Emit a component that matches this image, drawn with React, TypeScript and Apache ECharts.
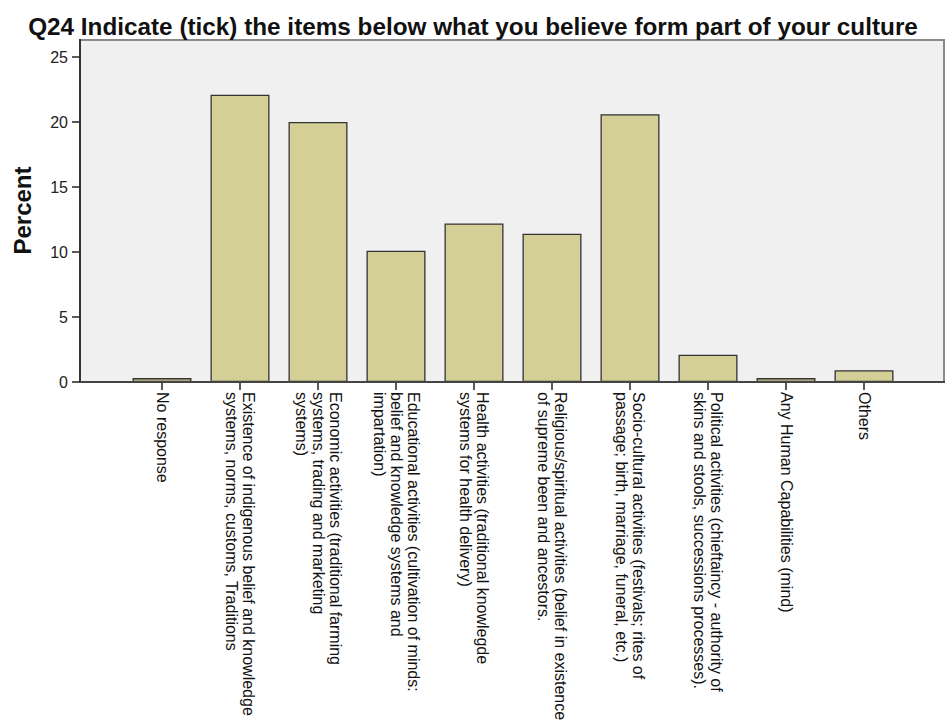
import React, { useEffect, useRef } from "react";
import * as echarts from "echarts";

const titleText = "Q24 Indicate (tick) the items below what you believe form part of your culture";
const yAxisName = "Percent";

const categories: string[] = [
  "No response",
  "Existence of indigenous belief and knowledge\nsystems, norms, customs, Traditions",
  "Economic activities (traditional farming\nsystems, trading and marketing\nsystems)",
  "Educational activities (cultivation of minds:\nbelief and knowledge systems and\nimpartation)",
  "Health activities (traditional knowlegde\nsystems for health delivery)",
  "Religious/spiritual activities (belief in existence\nof supreme been and ancestors.",
  "Socio-cultural activities (festivals; rites of\npassage; birth, marriage, funeral, etc.)",
  "Political activities (chieftaincy - authority of\nskins and stools, successions processes).",
  "Any Human Capabilities (mind)",
  "Others",
];

const percentValues: number[] = [0.3, 22.1, 20.0, 10.1, 12.2, 11.4, 20.6, 2.1, 0.3, 0.9];

const yTicks = { min: 0, max: 25, interval: 5 };

const FONT = "'Liberation Sans', Arial, sans-serif";

export default function App() {
  const ref = useRef<HTMLDivElement>(null);

  useEffect(() => {
    if (!ref.current) return;
    const chart = echarts.init(ref.current, null, { renderer: "svg" });

    const frameLeft = 80;
    const frameTop = 40;
    const frameRight = 944;
    const frameBottom = 382;

    chart.setOption({
      animation: false,
      backgroundColor: "#ffffff",
      textStyle: { fontFamily: FONT },
      title: {
        text: titleText,
        left: "center",
        top: 9,
        textStyle: { fontSize: 24.3, fontWeight: "bold", color: "#111", fontFamily: FONT },
      },
      graphic: [
        {
          type: "rect",
          z: -10,
          silent: true,
          shape: { x: frameLeft, y: frameTop, width: frameRight - frameLeft, height: frameBottom - frameTop },
          style: { fill: "#f0f0f0", stroke: "#8a8a8a", lineWidth: 2 },
        },
        {
          type: "line",
          z: 10,
          silent: true,
          shape: { x1: frameLeft, y1: frameTop - 1, x2: frameLeft, y2: frameBottom },
          style: { stroke: "#333", lineWidth: 2 },
        },
        {
          type: "line",
          z: 10,
          silent: true,
          shape: { x1: frameLeft, y1: frameBottom, x2: frameRight + 1, y2: frameBottom },
          style: { stroke: "#444", lineWidth: 2 },
        },
      ],
      grid: {
        left: 123,
        right: 43,
        top: 57,
        bottom: 342,
        containLabel: false,
      },
      xAxis: {
        type: "category",
        data: categories,
        axisLine: { show: false },
        axisTick: { show: true, alignWithLabel: true, length: 8, lineStyle: { color: "#222", width: 1.5 } },
        axisLabel: {
          interval: 0,
          rotate: -90,
          margin: 10,
          fontSize: 16,
          lineHeight: 17,
          color: "#111",
          fontFamily: FONT,
          padding: [6, 0, 0, 0],
        },
      },
      yAxis: {
        type: "value",
        min: yTicks.min,
        max: yTicks.max,
        interval: yTicks.interval,
        offset: 43,
        name: yAxisName,
        nameLocation: "middle",
        nameGap: 46,
        nameTextStyle: {
          fontSize: 24,
          fontWeight: "bold",
          color: "#111",
          fontFamily: FONT,
          padding: [0, 0, 0, 18],
        },
        axisLine: { show: false },
        axisTick: { show: true, length: 8, lineStyle: { color: "#222", width: 1.5 } },
        axisLabel: { fontSize: 16, color: "#222", margin: 12, fontFamily: FONT },
        splitLine: { show: false },
      },
      series: [
        {
          type: "bar",
          data: percentValues,
          barWidth: 59,
          itemStyle: { color: "#d3cf97", borderColor: "#333", borderWidth: 1.3 },
        },
      ],
    });

    return () => chart.dispose();
  }, []);

  return (
    <div
      ref={ref}
      style={{ position: "fixed", left: 0, top: 0, width: 946, height: 724, background: "#fff" }}
    />
  );
}
